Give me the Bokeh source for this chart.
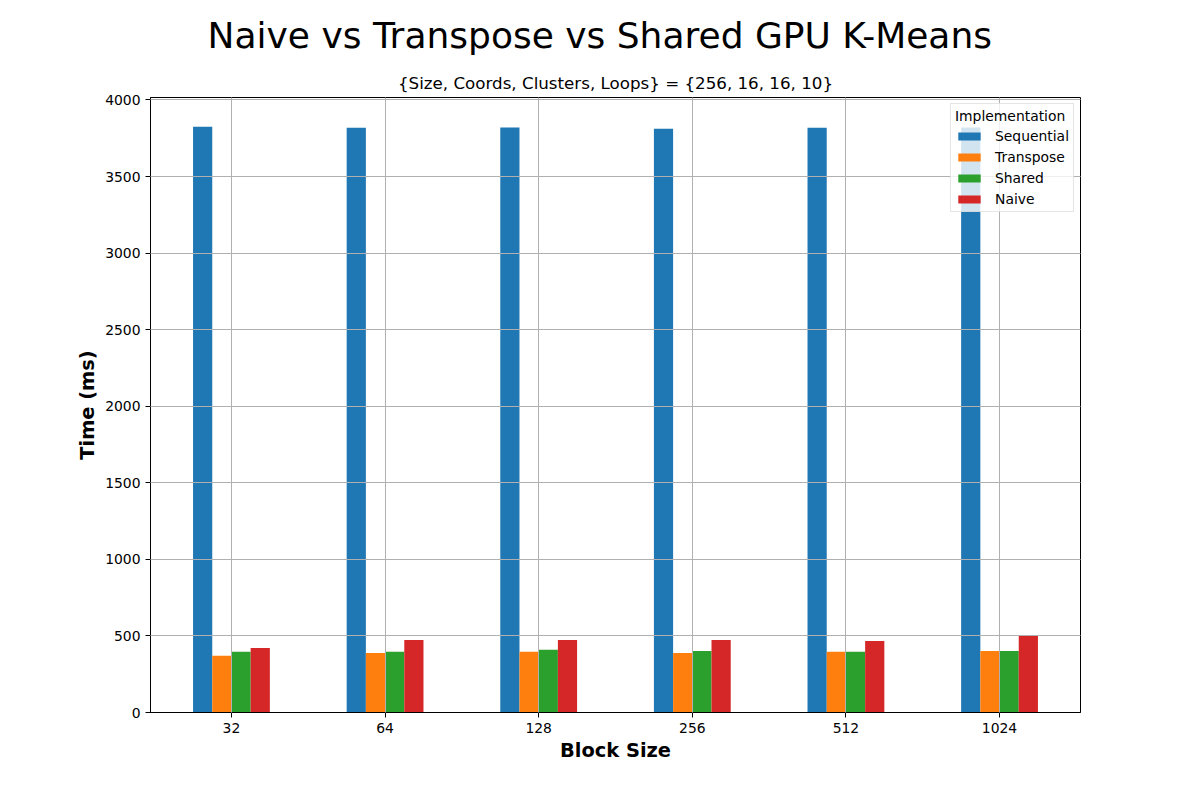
from bokeh.plotting import figure
from bokeh.models import FixedTicker, Title, Range1d, Legend, LegendItem, ColumnDataSource
from bokeh.embed import file_html
from bokeh.resources import INLINE

block_sizes = ["32", "64", "128", "256", "512", "1024"]
sequential = [3825, 3819, 3820, 3812, 3818, 3820]
transpose = [370, 389, 396, 389, 396, 402]
shared = [396, 396, 409, 402, 396, 402]
naive = [422, 474, 474, 474, 467, 506]

series_names = ["Sequential", "Transpose", "Shared", "Naive"]
series_values = [sequential, transpose, shared, naive]
colors = ["#1f77b4", "#ff7f0e", "#2ca02c", "#d62728"]

FONT = "DejaVu Sans"
n = len(block_sizes)
bar_w = 0.125
top = max(max(s) for s in series_values) * 1.05

p = figure(width=1184, height=784, output_backend="svg", toolbar_location=None,
           x_range=Range1d(-0.527, n - 1 + 0.527), y_range=Range1d(0, top),
           min_border_left=150, min_border_right=104, min_border_top=97, min_border_bottom=72,
           title="Naive vs Transpose vs Shared GPU K-Means")
p.title.align = "left"
p.title.text_font = FONT
p.title.text_font_size = "36px"
p.title.text_font_style = "normal"
p.title.text_color = "black"
p.title.standoff = 22
p.title.offset = 57

sub = Title(text="{Size, Coords, Clusters, Loops} = {256, 16, 16, 10}", align="center",
            text_font=FONT, text_font_size="16.7px", text_font_style="normal",
            text_color="black", standoff=9)
p.add_layout(sub, "above")

items = []
for i, (name, vals, c) in enumerate(zip(series_names, series_values, colors)):
    off = (i - 1.5) * bar_w
    src = ColumnDataSource(dict(x=[k + off for k in range(n)], top=vals))
    r = p.vbar(x="x", top="top", width=bar_w, bottom=0, source=src, fill_color=c, line_color=None)
    items.append(LegendItem(label=name, renderers=[r]))

ticker = FixedTicker(ticks=list(range(n)))
p.xaxis.ticker = ticker
p.xaxis.major_label_overrides = {k: s for k, s in enumerate(block_sizes)}
p.yaxis.ticker = FixedTicker(ticks=list(range(0, 4001, 500)))
p.xgrid.ticker = ticker
p.ygrid.ticker = FixedTicker(ticks=list(range(0, 4001, 500)))
for g in (p.xgrid, p.ygrid):
    g.grid_line_color = "#b0b0b0"
    g.grid_line_width = 1
    g.level = "guide"

for ax in (p.xaxis, p.yaxis):
    ax.major_label_text_font = FONT
    ax.major_label_text_font_size = "13.9px"
    ax.major_label_text_color = "black"
    ax.axis_label_text_font = FONT
    ax.axis_label_text_font_size = "19.4px"
    ax.axis_label_text_font_style = "bold"
    ax.axis_label_text_color = "black"
    ax.major_tick_out = 5
    ax.major_tick_in = 0
    ax.minor_tick_out = 0
    ax.minor_tick_in = 0
    ax.axis_line_color = "black"
    ax.major_tick_line_color = "black"
    ax.major_label_standoff = 5

p.xaxis.axis_label = "Block Size"
p.yaxis.axis_label = "Time (ms)"
p.xaxis.axis_label_standoff = 3
p.yaxis.axis_label_standoff = 3

p.outline_line_color = "black"
p.outline_line_width = 1
p.outline_line_alpha = 1

legend = Legend(items=items, location="top_right", title="Implementation",
                title_text_font=FONT, title_text_font_size="13.9px", title_text_font_style="normal",
                title_text_color="black",
                label_text_font=FONT, label_text_font_size="13.9px", label_text_color="black",
                glyph_width=28, glyph_height=10, label_height=17, spacing=4,
                label_standoff=12, padding=4, margin=6, title_standoff=3,
                border_line_color="#cccccc", background_fill_alpha=0.8)
p.add_layout(legend)

open("out.html", "w").write(file_html(p, INLINE))
